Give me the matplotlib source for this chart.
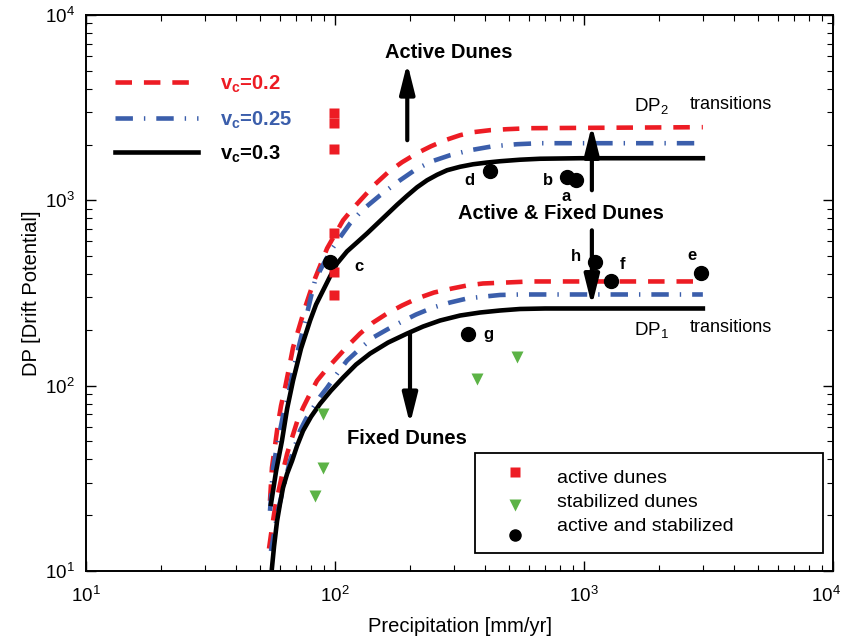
import matplotlib
matplotlib.use('Agg')
import matplotlib.pyplot as plt
from matplotlib.patches import Rectangle
from matplotlib.lines import Line2D
from matplotlib.transforms import ScaledTranslation

plt.rcParams['font.family'] = ['Liberation Sans', 'DejaVu Sans']
plt.rcParams['mathtext.fontset'] = 'custom'
plt.rcParams['mathtext.rm'] = 'Liberation Sans'
plt.rcParams['mathtext.bf'] = 'Liberation Sans:bold'

RED = '#ed1c24'
BLUE = '#3b5eab'
GREEN = '#5cb346'

# upper (DP2) transition curves, precipitation [mm/yr] vs DP
up_black_x = [55.3, 58.0, 61.2, 64.2, 67.8, 73.0, 79.4, 83.9, 89.5, 95.5, 101.9, 111.7, 122.6, 134.5,
              147.5, 161.8, 177.4, 194.6, 213.5, 234.2, 256.8, 281.7, 317.8, 358.3, 407.8, 459.9,
              553.4, 665.8, 963.6, 3000]
up_black_y = [23.0, 34.7, 50.4, 75.1, 106.4, 158.5, 224.6, 274.1, 326.2, 388.3, 456.5, 530.2, 592.9,
              663.3, 746.4, 840.3, 945.6, 1057.6, 1176, 1283, 1373, 1453, 1517, 1565, 1599, 1625,
              1656, 1676, 1687, 1687]
up_red_x = [54.8, 55.8, 57.4, 59.0, 60.7, 63.0, 65.4, 67.8, 71.7, 75.8, 79.4, 83.1, 87.9, 92.9, 100,
            107.7, 118.1, 129.6, 144.7, 163.3, 185.8, 213.5, 243.0, 276.6, 317.8, 358.3, 419.3, 490.7,
            606.9, 3000]
up_red_y = [23.9, 36.1, 47.4, 62.3, 78.0, 97.5, 125.1, 160.5, 205.8, 264.0, 318.1, 378.8, 456.5, 550.3,
            655.0, 779.8, 905.3, 1038, 1220, 1417, 1605, 1796, 1958, 2110, 2246, 2331, 2390, 2420,
            2450, 2481]
up_blue_x = [54.8, 56.4, 59.0, 61.8, 64.2, 67.2, 70.4, 73.7, 77.2, 80.1, 83.1, 87.9, 92.9, 98.2, 104.7,
             114.9, 128.3, 151.6, 182.4, 211.5, 245.3, 289.6, 348.5, 431.0, 538.3, 665.8, 3000]
up_blue_y = [21.1, 36.1, 50.4, 68.8, 83.0, 113.3, 148.9, 191.0, 245.1, 302.8, 369.6, 429.0, 492.0,
             557.1, 631.0, 751.0, 883.0, 1064, 1283, 1471, 1625, 1751, 1863, 1958, 2008, 2033, 2033]

# lower (DP1) transition curves
lo_black_x = [55.8, 56.9, 58.5, 60.1, 61.8, 64.2, 67.2, 70.4, 74.4, 80.1, 87.1, 96.3, 107.7, 121.4,
              138.2, 163.3, 194.6, 225.6, 264.1, 317.8, 382.3, 459.9, 553.4, 697.2, 3000]
lo_black_y = [10.4, 13.6, 18.6, 23.0, 28.1, 33.5, 39.3, 47.4, 57.1, 68.0, 79.9, 94.0, 110.5, 129.9,
              148.9, 170.8, 191.0, 208.4, 224.6, 239.0, 248.1, 254.4, 259.2, 260.8, 260.8]
lo_red_x = [54.3, 55.8, 57.4, 59.6, 61.8, 64.2, 67.2, 70.4, 74.4, 79.4, 84.7, 92.9, 101.9, 112.8,
            126.0, 142.1, 161.8, 185.8, 213.5, 249.8, 295.1, 338.9, 392.9, 490.7, 606.9, 3000]
lo_red_y = [13.2, 17.1, 21.9, 27.8, 34.7, 42.9, 52.4, 63.9, 76.0, 90.5, 106.4, 123.6, 141.7, 164.5,
            191.0, 219.0, 245.1, 270.7, 295.3, 318.1, 334.4, 347.1, 355.9, 360.3, 364.9, 364.9]
lo_blue_x = [55.3, 56.4, 57.4, 59.0, 61.2, 63.6, 65.9, 69.1, 72.3, 76.5, 81.6, 87.1, 92.9, 101.9,
             111.7, 126.0, 142.1, 161.8, 182.4, 211.5, 247.5, 289.6, 338.9, 400.4, 459.9, 553.4, 3000]
lo_blue_y = [12.8, 14.9, 17.1, 21.1, 26.1, 32.2, 39.3, 47.4, 57.1, 66.3, 76.0, 87.2, 97.5, 116.1,
             136.5, 158.5, 181.8, 200.8, 219.0, 242.0, 264.0, 280.9, 295.3, 302.8, 308.5, 310.4, 310.4]

# observations
active_x = [99, 99, 99, 99, 99, 99]
active_y = [2950, 2610, 1890, 664, 408, 310]
stab_x = [89.5, 89.5, 83, 372, 538]
stab_y = [70.6, 36, 25.4, 109, 142]
both_names = ['a', 'b', 'c', 'd', 'e', 'f', 'g', 'h']
both_x = [929, 855, 95.6, 419, 2950, 1283, 342, 1107]
both_y = [1283, 1331, 462, 1436, 403, 365, 189, 462]
both_offsets = [(-7, -12), (-14, -2), (21, -3), (-15, -7), (-6.5, 13), (8, 12), (14.5, 0), (-14, 4)]

fig = plt.figure(figsize=(8.46, 6.43), dpi=100)
ax = fig.add_axes([0.1017, 0.112, 0.883, 0.8647])
ax.set_xscale('log')
ax.set_yscale('log')
ax.set_xlim(10, 1e4)
ax.set_ylim(10, 1e4)

LW = 3.3
red_ls = (0, (3.6, 2.6))
blue_ls = (0, (3.8, 2.4, 0.3, 2.4))
for xs, ys in [(up_red_x, up_red_y), (lo_red_x, lo_red_y)]:
    ax.plot(xs, ys, color=RED, lw=LW, ls=red_ls, dash_capstyle='butt')
for xs, ys in [(up_blue_x, up_blue_y), (lo_blue_x, lo_blue_y)]:
    ax.plot(xs, ys, color=BLUE, lw=LW, ls=blue_ls, dash_capstyle='butt')
for xs, ys in [(up_black_x, up_black_y), (lo_black_x, lo_black_y)]:
    ax.plot(xs, ys, color='k', lw=LW, solid_joinstyle='round')

ax.plot(active_x, active_y, 's', color=RED, ms=6.5, mec='none', zorder=4)
ax.plot(stab_x, stab_y, 'v', color=GREEN, ms=8, mec='none', zorder=4)
ax.plot(both_x, both_y, 'o', color='k', ms=10, zorder=5)
for n, x, y, off in zip(both_names, both_x, both_y, both_offsets):
    ax.annotate(n, (x, y), xytext=off, textcoords='offset points',
                ha='center', va='center', fontsize=12, fontweight='bold')

# region arrows
arrow = dict(arrowstyle='-|>,head_width=0.25,head_length=1.0', lw=3, color='k',
             mutation_scale=18, shrinkA=0, shrinkB=0)
ax.annotate('', xy=(195, 5510), xytext=(195, 2110), arrowprops=arrow)
ax.annotate('', xy=(1075, 2541), xytext=(1075, 1133), arrowprops=arrow)
ax.annotate('', xy=(1075, 270), xytext=(1075, 689), arrowprops=arrow)
ax.annotate('', xy=(200, 62), xytext=(200, 193), arrowprops=arrow)

ax.text(285, 6310, 'Active Dunes', ha='center', va='center', fontsize=14.5, fontweight='bold')
ax.text(809, 851, 'Active & Fixed Dunes', ha='center', va='center', fontsize=14.5, fontweight='bold')
ax.text(195, 51.8, 'Fixed Dunes', ha='center', va='center', fontsize=14.5, fontweight='bold')
ax.text(1860, 3186, r'DP$_2$', ha='center', va='center', fontsize=13.5)
ax.text(3890, 3300, 'transitions', ha='center', va='center', fontsize=13)
ax.text(1860, 198, r'DP$_1$', ha='center', va='center', fontsize=13.5)
ax.text(3890, 205, 'transitions', ha='center', va='center', fontsize=13)


# v_c key, upper left (axes fraction)
def fx(px):
    return (px - 86) / 747.0


def fy(py):
    return (571 - py) / 556.0


keys = [(RED, red_ls, r'$\mathbf{v_c}$=0.2', 82),
        (BLUE, blue_ls, r'$\mathbf{v_c}$=0.25', 118),
        ('k', '-', r'$\mathbf{v_c}$=0.3', 152)]
for c, ls, lab, py in keys:
    ax.add_line(Line2D([fx(115), fx(198)], [fy(py), fy(py)], transform=ax.transAxes,
                       color=c, lw=LW, ls=ls, dash_capstyle='butt'))
    ax.text(fx(220), fy(py + 2), lab, transform=ax.transAxes, color=c,
            fontsize=14.5, fontweight='bold', va='center', ha='left')

# marker key, lower right
ax.add_patch(Rectangle((fx(475), fy(553)), fx(823) - fx(475), fy(453) - fy(553),
                       transform=ax.transAxes, fill=False, lw=1.3, ec='k', zorder=6))
ax.plot([fx(515)], [fy(472)], 's', color=RED, ms=6.5, mec='none', transform=ax.transAxes, zorder=7)
ax.plot([fx(515)], [fy(505)], 'v', color=GREEN, ms=8, mec='none', transform=ax.transAxes, zorder=7)
ax.plot([fx(515)], [fy(535)], 'o', color='k', ms=8, transform=ax.transAxes, zorder=7)
for lab, py in [('active dunes', 479), ('stabilized dunes', 503), ('active and stabilized', 527)]:
    ax.text(fx(557), fy(py), lab, transform=ax.transAxes, fontsize=14, va='center', ha='left', zorder=7)

ax.set_xticks([10, 100, 1000, 10000])
ax.set_yticks([10, 100, 1000, 10000])
ax.set_xlabel('Precipitation [mm/yr]', fontsize=14.5, labelpad=8)
ax.set_ylabel('DP [Drift Potential]', fontsize=14.5, labelpad=3)
ax.tick_params(which='both', direction='in', top=True, right=True, labelsize=13.5)
ax.tick_params(axis='x', which='major', pad=11)
ax.tick_params(axis='y', which='major', pad=8)
ax.tick_params(which='major', length=7, width=1)
ax.tick_params(which='minor', length=4, width=0.8)
for s in ax.spines.values():
    s.set_linewidth(1.4)

# keep the 10^4 label inside the figure
last = ax.xaxis.get_major_ticks()[-1].label1
last.set_transform(last.get_transform() + ScaledTranslation(-5 / 72, 0, fig.dpi_scale_trans))

fig.savefig('out.png', dpi=100)
